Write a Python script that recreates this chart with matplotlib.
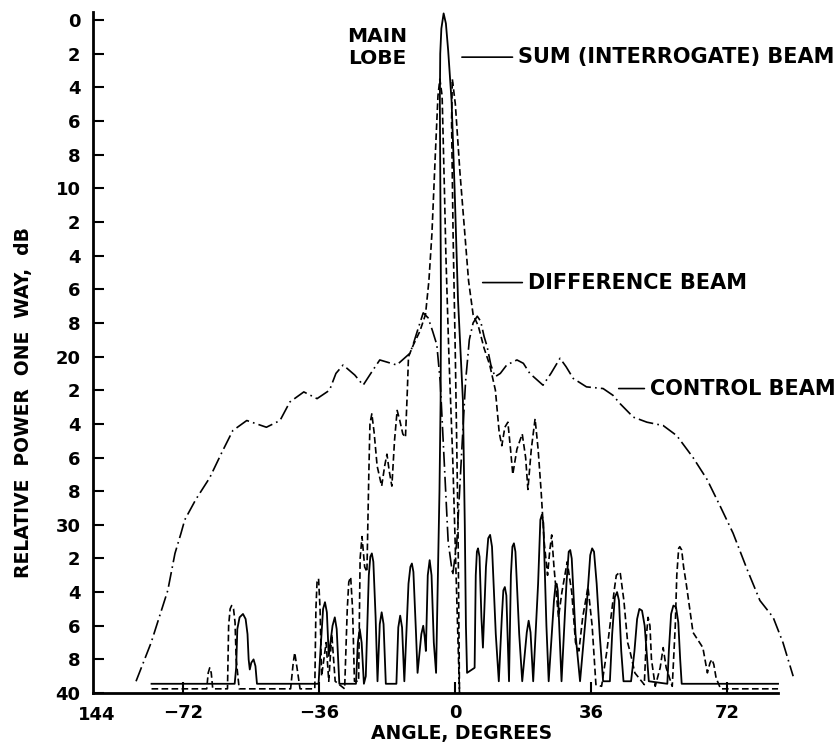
import matplotlib
matplotlib.use("Agg")
import matplotlib.pyplot as plt

plt.rcParams['font.family'] = ['DejaVu Sans']
plt.rcParams['font.weight'] = 'bold'
plt.rcParams['axes.labelweight'] = 'bold'

# values: angle in degrees, level in dB below peak

control_ang = [-84.4, -80.4, -76.0, -74.1, -72.5, -71.5, -68.6, -64.9, -61.7, -58.8,
               -55.1, -49.9, -46.3, -43.7, -40.0, -36.5, -33.2, -31.5, -29.6, -26.5,
               -24.3, -21.7, -19.9, -15.4, -11.9, -11.1, -9.7, -8.4, -7.1, -5.9,
               -4.8, -3.9, -2.9, -1.8, -0.6, 0.5, 1.7, 2.8, 3.8, 4.8,
               5.9, 6.8, 7.7, 8.5, 9.5, 10.6, 12.0, 13.7, 16.4, 18.1,
               19.8, 23.3, 25.4, 27.8, 29.4, 31.3, 34.8, 39.2, 41.8, 43.7,
               47.2, 50.8, 55.1, 58.7, 63.0, 66.7, 70.2, 73.6, 77.4, 80.7,
               84.2, 86.8, 89.5]
control_db = [39.3, 37.0, 33.9, 31.7, 30.5, 29.7, 28.5, 27.2, 25.7, 24.4,
              23.8, 24.2, 23.8, 22.7, 22.1, 22.5, 22.0, 21.0, 20.5, 21.1,
              21.7, 20.8, 20.2, 20.5, 19.8, 19.3, 18.3, 17.4, 17.7, 18.5,
              19.3, 21.5, 26.0, 31.0, 33.0, 31.0, 26.0, 21.5, 19.0, 18.0,
              17.6, 17.9, 18.8, 19.4, 20.5, 21.2, 21.0, 20.5, 20.2, 20.4,
              21.0, 21.7, 21.0, 20.1, 20.6, 21.3, 21.8, 21.9, 22.3, 22.8,
              23.6, 23.9, 24.1, 24.7, 26.0, 27.3, 28.9, 30.5, 32.7, 34.5,
              35.5, 37.0, 39.0]

sum_ang = [-80.3, -58.3, -57.9, -57.6, -57.0, -56.1, -55.4, -54.9, -54.6, -54.3,
           -53.9, -53.3, -52.8, -52.4, -36.1, -35.6, -34.9, -34.4, -33.9, -33.4,
           -32.4, -31.8, -31.3, -30.6, -26.2, -25.7, -25.2, -24.7, -24.1, -23.6,
           -22.8, -22.4, -22.0, -21.6, -21.0, -20.5, -19.9, -19.4, -18.9, -18.3,
           -15.5, -15.0, -14.5, -14.0, -13.4, -12.3, -11.8, -11.4, -11.0, -10.3,
           -9.9, -8.9, -8.4, -8.0, -7.7, -7.2, -6.7, -6.2, -5.6, -5.0,
           -4.6, -4.1, -3.8, -3.7, -3.9, -4.0, -3.9, -3.6, -3.0, -2.4,
           -1.8, -0.9, -0.1, 0.8, 2.1, 2.6, 2.9, 3.2,
           5.2, 5.5, 5.8, 6.1, 6.5, 7.0, 7.4, 8.2, 8.8, 9.3,
           9.8, 10.8, 11.6, 12.4, 12.8, 13.2, 13.6, 14.3, 14.8, 15.2,
           15.6, 16.0, 17.0, 17.8, 19.0, 19.5, 20.0, 20.7, 22.0, 22.6,
           23.0, 23.4, 24.2, 24.8, 26.2, 26.6, 26.9, 27.2, 28.2, 29.5,
           30.1, 30.5, 30.9, 31.9, 33.1, 34.8, 35.8, 36.3, 36.8, 37.5,
           38.3, 39.2, 41.0, 41.6, 42.3, 42.9, 43.4, 44.0, 44.6, 46.6,
           47.5, 48.2, 48.8, 49.5, 50.2, 50.7, 51.3, 56.2, 56.6, 57.2,
           57.8, 58.5, 59.1, 59.6, 60.0, 85.5]
sum_db = [39.45, 39.45, 38.5, 36.2, 35.5, 35.3, 35.6, 36.5, 38.0, 38.6,
          38.2, 38.0, 38.4, 39.45, 39.45, 37.5, 35.0, 34.6, 35.2, 37.8,
          36.0, 35.5, 36.2, 39.45, 39.45, 37.0, 36.2, 37.0, 39.45, 39.0,
          33.0, 31.9, 31.7, 32.2, 35.5, 39.3, 35.9, 35.2, 35.9, 39.45,
          39.45, 36.1, 35.4, 36.1, 39.3, 33.5, 32.5, 32.3, 32.8, 36.5,
          38.8, 36.5, 36.0, 36.7, 37.5, 33.0, 32.1, 33.0, 37.0, 38.8,
          34.0, 28.0, 22.6, 16.6, 8.0, 4.8, 2.0, 0.5, -0.4, 0.2,
          1.8, 4.8, 10.0, 16.6, 22.6, 30.0, 36.0, 38.8,
          38.5, 33.0, 31.6, 31.4, 31.9, 35.5, 37.3, 32.5, 30.8, 30.6,
          31.3, 36.5, 39.3, 35.5, 33.9, 33.7, 34.2, 39.3, 33.0, 31.3,
          31.1, 31.6, 36.5, 39.3, 36.4, 35.7, 36.4, 39.3, 33.5, 29.7,
          29.4, 29.9, 36.0, 39.3, 34.5, 33.6, 33.5, 33.9, 39.3, 33.5,
          31.6, 31.5, 32.0, 36.5, 39.3, 35.0, 31.8, 31.4, 31.6, 33.5,
          36.5, 39.3, 39.3, 36.5, 34.3, 34.0, 34.5, 37.5, 39.3, 39.3,
          37.5, 35.6, 35.0, 35.1, 36.0, 37.5, 39.3, 39.45, 37.5, 35.3,
          34.8, 34.9, 35.8, 38.0, 39.45, 39.45]

diff_ang = [-80.3, -65.7, -65.3, -64.9, -64.5, -64.1, -60.2, -59.9, -59.5, -59.1,
            -58.6, -58.2, -57.9, -57.1, -43.5, -42.8, -42.4, -41.8, -41.0, -37.1,
            -36.8, -36.5, -36.1, -35.7, -35.3, -34.1, -33.4, -32.6, -31.7, -29.2,
            -28.5, -28.1, -27.6, -27.1, -26.6, -25.5, -25.1, -24.6, -23.9, -23.3,
            -22.8, -22.5, -22.0, -21.4, -20.6, -19.4, -18.6, -18.0, -17.4, -16.7,
            -16.0, -15.3, -14.6, -13.8, -13.1, -12.6, -12.3, -11.0, -9.3, -7.8,
            -6.9, -6.1, -5.2, -4.5, -4.0, -3.4, -2.8, -2.4, -1.6, -0.6,
            0.3, 1.2,
            0.8, 0.1, -0.5, -0.9, -0.7, 0.1, 1.3, 2.6, 3.6, 4.8,
            6.2, 7.7, 9.2, 10.7, 11.7, 12.4, 13.2, 14.0, 14.7, 15.3,
            16.4, 17.8, 18.7, 19.3, 20.2, 21.2, 22.0, 22.8, 23.6, 24.5,
            25.1, 25.6, 26.2, 27.4, 28.3, 29.7, 30.9, 31.9, 32.8, 33.8,
            35.2, 36.3, 37.3, 38.8, 40.2, 42.2, 42.7, 43.7, 44.7, 45.7,
            46.4, 47.6, 50.1, 50.7, 51.1, 51.6, 52.0, 53.0, 54.3, 55.1,
            55.9, 57.5, 58.3, 58.7, 59.2, 59.5, 60.0, 60.5, 61.2, 63.0,
            65.6, 66.8, 67.5, 68.0, 68.5, 69.1, 70.3, 85.5]
diff_db = [39.75, 39.75, 38.8, 38.5, 38.8, 39.75, 39.75, 36.0, 35.0, 34.8,
           35.0, 35.8, 38.0, 39.75, 39.75, 38.2, 37.6, 38.5, 39.75, 39.75,
           35.0, 33.4, 33.2, 35.0, 39.0, 37.0, 39.3, 36.5, 39.3, 39.75,
           35.0, 33.4, 33.1, 35.0, 39.3, 39.3, 32.0, 30.7, 32.5, 32.8,
           27.0, 24.0, 23.4, 24.5, 26.5, 27.7, 26.5, 25.8, 26.8, 27.7,
           25.0, 23.2, 23.8, 24.6, 24.8, 22.0, 20.0, 19.3, 18.5, 17.5,
           15.5, 12.7, 8.0, 4.5, 3.5, 4.5, 10.0, 14.0, 20.0, 26.0,
           33.0, 40.0,
           30.0, 20.0, 12.7, 6.0, 3.5, 5.0, 9.0, 12.7, 15.5, 17.5,
           18.2, 19.5, 20.5, 22.0, 24.5, 25.3, 24.2, 23.9, 25.5, 27.0,
           25.5, 24.6, 26.0, 27.9, 25.5, 23.7, 25.5, 28.0, 31.0, 33.0,
           31.5, 30.6, 32.5, 35.5, 34.0, 32.2, 34.0, 37.0, 37.5, 35.5,
           33.7, 36.0, 39.5, 39.6, 37.5, 33.8, 33.0, 32.8, 34.5, 37.0,
           37.6, 38.8, 39.5, 36.5, 35.5, 36.0, 38.0, 39.6, 38.5, 37.3,
           38.5, 39.6, 36.0, 33.0, 31.4, 31.3, 31.5, 32.5, 33.5, 36.4,
           37.3, 38.8, 38.2, 38.0, 38.3, 39.1, 39.75, 39.75]

y_ticks = list(range(0, 41, 2))
y_labels = ['0', '2', '4', '6', '8', '10', '2', '4', '6', '8', '20',
            '2', '4', '6', '8', '30', '2', '4', '6', '8', '40']
x_ticks = [-72, -36, 0, 36, 72]
x_labels = ['\u221272', '\u221236', '0', '36', '72']

fig = plt.figure(figsize=(8.36, 7.44), dpi=100)
ax = fig.add_axes([0.1112, 0.0685, 0.8457, 0.918])

ax.plot(sum_ang, sum_db, color='black', lw=1.3)
ax.plot(diff_ang, diff_db, color='black', lw=1.2, ls=(0, (4, 2)))
ax.plot(control_ang, control_db, color='black', lw=1.2, ls=(0, (9, 2.5, 1, 2.5)))

ax.set_xlim(-95.8, 91.3)
ax.set_ylim(40, -0.6)

for side in ['top', 'right']:
    ax.spines[side].set_visible(False)
ax.spines['left'].set_linewidth(2)
ax.spines['bottom'].set_linewidth(2)
ax.spines['left'].set_bounds(-0.5, 40)
ax.spines['bottom'].set_bounds(-95.8, 85.5)

ax.set_yticks(y_ticks)
ax.set_yticklabels(y_labels)
ax.set_xticks(x_ticks)
ax.set_xticklabels(x_labels)
ax.tick_params(axis='y', direction='in', length=8, width=1.5, labelsize=13, pad=9)
ax.tick_params(axis='x', direction='in', length=8, width=1.5, labelsize=13, pad=8)
ax.text(-94.8, 41.3, '144', fontsize=13, ha='center', va='center')

ax.set_xlabel('ANGLE, DEGREES', fontsize=13.5)
ax.xaxis.set_label_coords(0.522, -0.045)
ax.set_ylabel('RELATIVE  POWER  ONE  WAY,  dB', fontsize=13.5)
ax.yaxis.set_label_coords(-0.085, 0.425)

ax.text(-20.6, 1.6, 'MAIN\nLOBE', fontsize=14.5, ha='center', va='center', linespacing=1.2)
line_props = dict(arrowstyle='-', lw=1.2, color='black', relpos=(0, 0.5))
ax.annotate('SUM (INTERROGATE) BEAM', xy=(1.1, 2.2), xytext=(16.7, 2.2),
            fontsize=15, ha='left', va='center', arrowprops=line_props)
ax.annotate('DIFFERENCE BEAM', xy=(6.6, 15.6), xytext=(19.3, 15.6),
            fontsize=15, ha='left', va='center', arrowprops=line_props)
ax.annotate('CONTROL BEAM', xy=(42.6, 21.9), xytext=(51.6, 21.9),
            fontsize=15, ha='left', va='center', arrowprops=line_props)

fig.savefig('out.png', dpi=100)
